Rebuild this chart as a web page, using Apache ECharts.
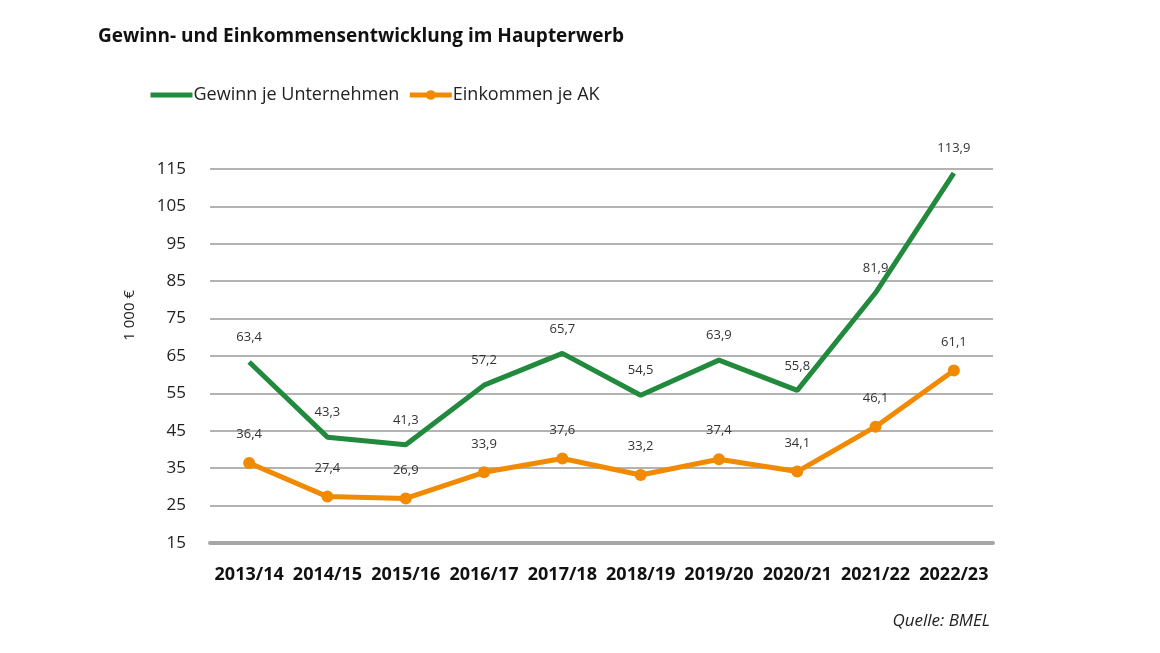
<!DOCTYPE html>
<html>
<head>
<meta charset="utf-8">
<script src="https://cdn.jsdelivr.net/npm/echarts@6/dist/echarts.min.js"></script>
<style>
html,body{margin:0;padding:0;background:#fff;}
#chart{width:1160px;height:653px;}
</style>
</head>
<body>
<div id="chart"></div>
<script>
// Wirtschaftsjahre
var years = ['2013/14','2014/15','2015/16','2016/17','2017/18','2018/19','2019/20','2020/21','2021/22','2022/23'];
// Gewinn je Unternehmen (1 000 €)
var gewinn = [63.4, 43.3, 41.3, 57.2, 65.7, 54.5, 63.9, 55.8, 81.9, 113.9];
// Einkommen je AK (1 000 €)
var einkommen = [36.4, 27.4, 26.9, 33.9, 37.6, 33.2, 37.4, 34.1, 46.1, 61.1];
var yTicks = [15, 25, 35, 45, 55, 65, 75, 85, 95, 105, 115];

var green = '#218a3d', orange = '#f18a00';
var fontMain = '"Open Sans", "Noto Sans", sans-serif';

function fmt(p) {
    return String(p.value).replace('.', ',');
}

var chart = echarts.init(document.getElementById('chart'));
var option = {
    backgroundColor: '#fff',
    animation: false,
    textStyle: {fontFamily: fontMain},
    title: {
        text: 'Gewinn- und Einkommensentwicklung im Haupterwerb',
        left: 93,
        top: 22,
        textStyle: {fontSize: 19, fontWeight: 'bold', color: '#111', fontFamily: fontMain}
    },
    legend: {
        left: 143,
        top: 81,
        itemWidth: 42,
        itemHeight: 12,
        itemGap: 8,
        lineStyle: {width: 5},
        textStyle: {fontSize: 18, color: '#222', padding: [0, 0, 0, -4]},
        data: [
            {name: 'Gewinn je Unternehmen', itemStyle: {color: 'rgba(0,0,0,0)', borderWidth: 0}},
            {name: 'Einkommen je AK'}
        ]
    },
    grid: {left: 210, right: 167, top: 169, bottom: 110},
    xAxis: {
        type: 'category',
        data: years,
        boundaryGap: true,
        axisTick: {show: false},
        axisLine: {show: true, lineStyle: {color: '#a6a6a6', width: 4}},
        axisLabel: {interval: 0, fontSize: 18, fontWeight: 'bold', color: '#111', margin: 23}
    },
    yAxis: {
        type: 'value',
        min: yTicks[0],
        max: yTicks[yTicks.length - 1],
        interval: 10,
        axisLine: {show: false},
        axisTick: {show: false},
        splitLine: {lineStyle: {color: '#b3b3b3', width: 2}},
        axisLabel: {fontSize: 17, color: '#222', margin: 24}
    },
    graphic: [
        {
            type: 'text',
            left: 122,
            top: 290,
            rotation: Math.PI / 2,
            style: {text: '1 000 €', fontSize: 15, fill: '#222', fontFamily: fontMain}
        },
        {
            type: 'text',
            right: 170,
            top: 613,
            style: {text: 'Quelle: BMEL', fontSize: 17, fontStyle: 'italic', fill: '#222', fontFamily: fontMain}
        }
    ],
    series: [
        {
            name: 'Gewinn je Unternehmen',
            type: 'line',
            data: gewinn,
            symbol: 'circle',
            symbolSize: 0.1,
            lineStyle: {color: green, width: 5},
            itemStyle: {color: green},
            label: {show: true, position: 'top', distance: 18, fontSize: 13, color: '#333', formatter: fmt}
        },
        {
            name: 'Einkommen je AK',
            type: 'line',
            data: einkommen,
            symbol: 'circle',
            symbolSize: 12,
            lineStyle: {color: orange, width: 5},
            itemStyle: {color: orange},
            label: {show: true, position: 'top', distance: 16, fontSize: 13, color: '#333', formatter: fmt}
        }
    ]
};
chart.setOption(option);
</script>
</body>
</html>
